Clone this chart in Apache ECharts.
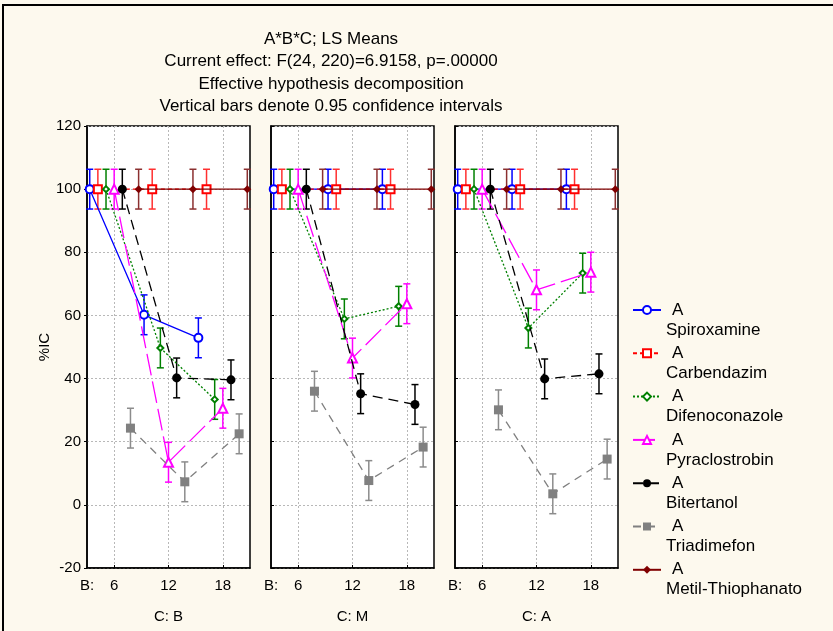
<!DOCTYPE html>
<html><head><meta charset="utf-8">
<script src="https://cdn.jsdelivr.net/npm/echarts@6/dist/echarts.min.js"></script>
<style>html,body{margin:0;padding:0;background:#fdf9ee;} #c{width:833px;height:631px;}</style>
</head><body><div id="c"></div>
<script>
// ---- data ----
const bLevels = [6, 12, 18];
const cLevels = ['B', 'M', 'A'];
const seriesNames = ['Spiroxamine', 'Carbendazim', 'Difenoconazole', 'Pyraclostrobin', 'Bitertanol', 'Triadimefon', 'Metil-Thiophanato'];
// LS means per C level (B, M, A); each row over B = 6, 12, 18
const spiroxamine      = [[100, 60.2, 52.9], [100, 100, 100], [100, 100, 100]];
const carbendazim      = [[100, 100, 100], [100, 100, 100], [100, 100, 100]];
const difenoconazole   = [[100, 49.7, 33.4], [100, 58.9, 62.9], [100, 56.0, 73.4]];
const pyraclostrobin   = [[100, 13.5, 30.6], [100, 46.5, 63.7], [100, 68.1, 73.7]];
const bitertanol       = [[100, 40.2, 39.6], [100, 35.2, 31.8], [100, 39.9, 41.5]];
const triadimefon      = [[24.3, 7.3, 22.5], [36.0, 7.7, 18.3], [30.1, 3.5, 14.5]];
const metilThiophanato = [[100, 100, 100], [100, 100, 100], [100, 100, 100]];
const ciHalfWidth = 6.3;
const titleLines = ['A*B*C; LS Means', 'Current effect: F(24, 220)=6.9158, p=.00000', 'Effective hypothesis decomposition', 'Vertical bars denote 0.95 confidence intervals'];

const allMeans = [spiroxamine, carbendazim, difenoconazole, pyraclostrobin, bitertanol, triadimefon, metilThiophanato];

// ---- styles ----
const colors = ['#0000ff', '#ff0000', '#008000', '#ff00ff', '#000000', '#808080', '#800000'];
const barColors = ['#0000ff', '#ff3030', '#008000', '#ff00ff', '#000000', '#8c8c8c', '#8b3030'];
const symbols = ['emptyCircle', 'emptyRect', 'emptyDiamond', 'emptyTriangle', 'circle', 'rect', 'diamond'];
const symSizes = [8, 8, 6, 9, 9, 9, 8];
const dashes = ['solid', [4, 3], [2, 2], [22, 6], [10, 6], [8, 6], 'solid'];
const dodge = [-2.7, -1.8, -0.9, 0, 0.9, 1.8, 2.7];
const sans = '"Liberation Sans", Arial, sans-serif';

const grids = [], xAxes = [], yAxes = [], series = [];
cLevels.forEach((c, p) => {
  grids.push({left: 87 + 184 * p, top: 126, width: 163, height: 442, show: true,
    backgroundColor: '#ffffff', borderColor: '#000', borderWidth: 1.5});
  xAxes.push({type: 'value', gridIndex: p, min: 3, max: 21,
    name: 'C: ' + c, nameLocation: 'middle', nameGap: 41,
    nameTextStyle: {fontFamily: sans, fontSize: 15, color: '#000'},
    axisLine: {show: true, onZero: false, lineStyle: {color: '#000', width: 1.5}},
    axisTick: {show: true, inside: true, length: 3, customValues: bLevels, lineStyle: {color: '#000'}},
    axisLabel: {customValues: [3].concat(bLevels), formatter: v => v === 3 ? 'B:' : String(v),
      fontFamily: sans, fontSize: 15, color: '#000', margin: 10},
    splitLine: {show: true, lineStyle: {color: '#b8b8b8', type: [2, 2], width: 1}}
  });
  yAxes.push({type: 'value', gridIndex: p, min: -20, max: 120, interval: 20,
    name: p === 0 ? '%IC' : '', nameLocation: 'middle', nameGap: 35,
    nameTextStyle: {fontFamily: sans, fontSize: 15, color: '#000'},
    axisLine: {show: true, lineStyle: {color: '#000', width: 1.5}},
    axisTick: {show: true, inside: p !== 0, length: 3, lineStyle: {color: '#000'}},
    axisLabel: {show: p === 0, fontFamily: sans, fontSize: 15, color: '#000', margin: 6},
    splitLine: {show: true, lineStyle: {color: '#b8b8b8', type: [2, 2], width: 1}}
  });
});

seriesNames.forEach((name, s) => {
  cLevels.forEach((c, p) => {
    const vals = allMeans[s][p];
    series.push({
      type: 'line', name: name, xAxisIndex: p, yAxisIndex: p,
      data: bLevels.map((b, i) => [b + dodge[s], vals[i]]),
      symbol: symbols[s], symbolSize: symSizes[s], showAllSymbol: true,
      itemStyle: {color: colors[s], borderWidth: 1.3},
      lineStyle: {color: colors[s], width: 1.3, type: dashes[s]},
      z: 3 + s, animation: false
    });
  });
});
seriesNames.forEach((name, s) => {
  cLevels.forEach((c, p) => {
    const vals = allMeans[s][p];
    series.push({
      type: 'custom', name: name, xAxisIndex: p, yAxisIndex: p,
      data: bLevels.map((b, i) => [b + dodge[s], vals[i] - ciHalfWidth, vals[i] + ciHalfWidth]),
      encode: {x: 0, y: [1, 2]},
      renderItem: (params, api) => {
        const x = api.value(0);
        const top = api.coord([x, api.value(2)]);
        const bot = api.coord([x, api.value(1)]);
        const w = 3.5;
        const st = {stroke: barColors[s], lineWidth: 1.5};
        return {type: 'group', children: [
          {type: 'line', shape: {x1: top[0], y1: top[1], x2: bot[0], y2: bot[1]}, style: st},
          {type: 'line', shape: {x1: top[0] - w, y1: top[1], x2: top[0] + w, y2: top[1]}, style: st},
          {type: 'line', shape: {x1: bot[0] - w, y1: bot[1], x2: bot[0] + w, y2: bot[1]}, style: st}
        ]};
      },
      z: 2, animation: false, silent: true
    });
  });
});

const chart = echarts.init(document.getElementById('c'), null, {renderer: 'canvas'});
chart.setOption({
  backgroundColor: '#fdf9ee',
  animation: false,
  title: {text: titleLines.join('\n'), left: 326, top: 23, textAlign: 'center',
    textStyle: {fontFamily: sans, fontSize: 17, fontWeight: 'normal', color: '#000', lineHeight: 22.5}},
  legend: {orient: 'vertical', left: 627, top: 275, itemGap: -16.7, itemWidth: 28, itemHeight: 10,
    data: seriesNames, formatter: n => '\n{a|A}\n{n|' + n + '}',
    textStyle: {fontFamily: sans, fontSize: 17, color: '#000', lineHeight: 20,
      rich: {a: {fontFamily: sans, fontSize: 17, lineHeight: 20, padding: [0, 0, 0, 6]},
             n: {fontFamily: sans, fontSize: 17, lineHeight: 20}}}},
  grid: grids, xAxis: xAxes, yAxis: yAxes, series: series,
  graphic: [{type: 'rect', shape: {x: 3, y: 5, width: 850, height: 650},
    style: {fill: 'none', stroke: '#000', lineWidth: 2}, silent: true}]
});
</script></body></html>
